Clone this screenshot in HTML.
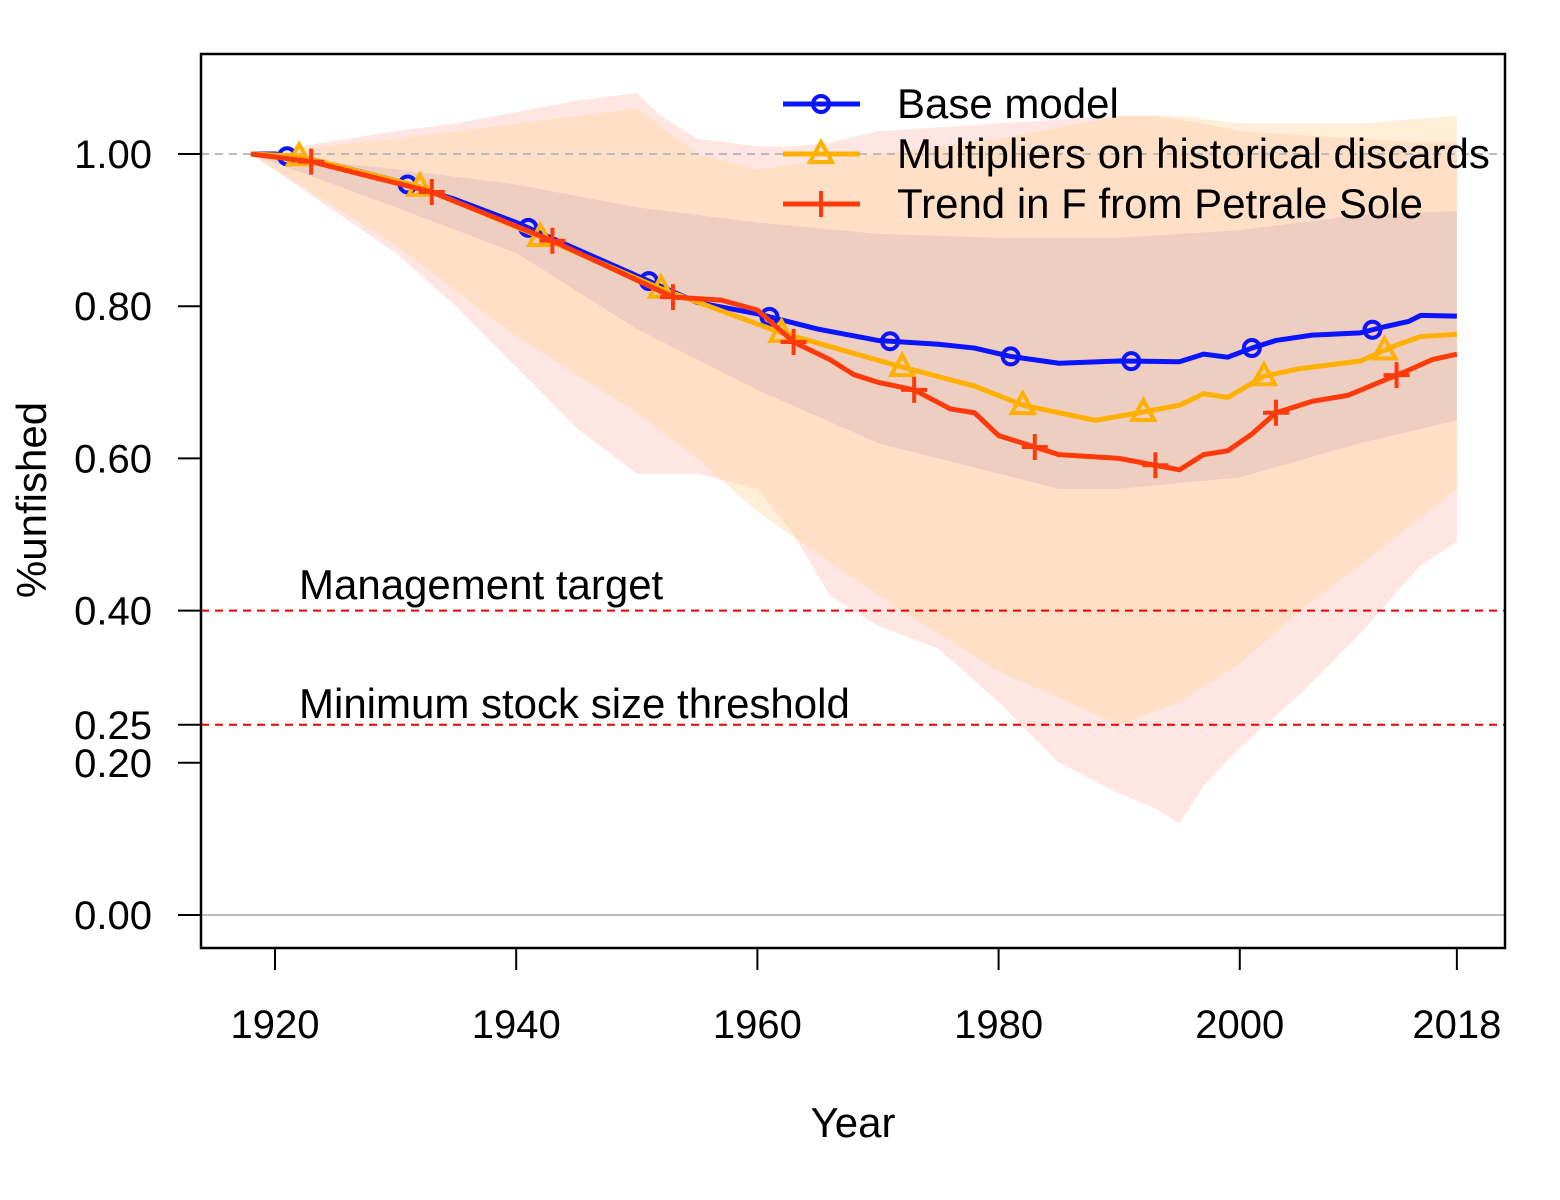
<!DOCTYPE html>
<html><head><meta charset="utf-8"><style>
body{margin:0;background:#fff}
svg{display:block;font-family:"Liberation Sans",Arial,sans-serif}
</style></head><body>
<svg id="chart" width="1560" height="1200" viewBox="0 0 1560 1200">
<g id="bands"></g>
<g id="ref"></g>
<g id="series"></g>
<rect x="201" y="54" width="1304" height="894" fill="none" stroke="#000" stroke-width="2.5"/>
<g id="axes" font-size="40" fill="#000"></g>
<text x="853" y="1137" font-size="42" text-anchor="middle">Year</text>
<text transform="translate(46,500) rotate(-90)" font-size="42" text-anchor="middle">%unfished</text>
<text x="299" y="599" font-size="42">Management target</text>
<text x="299" y="718" font-size="42">Minimum stock size threshold</text>
<g id="legend" font-size="42"></g>
</svg>
<script>
const xTicks=[1920,1940,1960,1980,2000,2018];
const yTicks=[0,0.2,0.25,0.4,0.6,0.8,1.0];
const yTickLabels=["0.00","0.20","0.25","0.40","0.60","0.80","1.00"];
const baseYears=[1918,1920,1925,1930,1935,1940,1945,1950,1955,1960,1965,1970,1975,1978,1981,1985,1990,1995,1997,1999,2001,2003,2006,2010,2012,2014,2015,2018];
const baseVals=[1,1,0.985,0.965,0.94,0.91,0.875,0.84,0.805,0.79,0.77,0.755,0.75,0.745,0.734,0.725,0.728,0.727,0.737,0.733,0.745,0.755,0.762,0.765,0.773,0.78,0.788,0.787];
const multYears=[1918,1922,1932,1942,1952,1962,1972,1978,1982,1988,1992,1995,1997,1999,2002,2005,2010,2013,2015,2018];
const multVals=[1,0.997,0.957,0.891,0.823,0.765,0.72,0.695,0.67,0.65,0.661,0.67,0.685,0.68,0.708,0.718,0.728,0.749,0.76,0.763];
const trendYears=[1918,1923,1933,1943,1953,1957,1960,1963,1966,1968,1970,1973,1976,1978,1980,1983,1985,1990,1993,1995,1997,1999,2001,2003,2006,2009,2014,2016,2018];
const trendVals=[1,0.99,0.95,0.886,0.812,0.808,0.795,0.753,0.73,0.71,0.7,0.69,0.665,0.66,0.63,0.615,0.605,0.6,0.591,0.585,0.605,0.61,0.632,0.66,0.675,0.683,0.716,0.73,0.737];
const redBandYears=[1918,1930,1935,1940,1945,1950,1952,1955,1960,1963,1966,1970,1975,1980,1985,1990,1993,1995,1997,2000,2005,2010,2015,2018];
const redBandUp=[1,1.03,1.04,1.055,1.07,1.08,1.05,1.02,1.01,1.01,1.015,1.03,1.035,1.04,1.045,1.05,1.05,1.045,1.04,1.03,1.025,1.02,1.015,1.015];
const redBandLo=[1,0.87,0.8,0.72,0.64,0.58,0.58,0.58,0.56,0.5,0.42,0.38,0.35,0.28,0.2,0.16,0.14,0.12,0.17,0.22,0.29,0.37,0.46,0.49];
const orBandYears=[1918,1930,1940,1945,1950,1955,1960,1970,1980,1990,1995,2000,2005,2010,2018];
const orBandUp=[1,1.02,1.04,1.05,1.06,1.0,0.98,1.0,1.02,1.05,1.05,1.04,1.04,1.04,1.05];
const orBandLo=[1,0.88,0.76,0.71,0.66,0.6,0.53,0.42,0.32,0.25,0.28,0.33,0.4,0.46,0.56];
const blBandYears=[1918,1930,1940,1950,1960,1970,1980,1985,1990,2000,2010,2018];
const blBandUp=[1,0.98,0.96,0.93,0.91,0.895,0.89,0.89,0.89,0.9,0.92,0.925];
const blBandLo=[1,0.93,0.87,0.77,0.69,0.62,0.58,0.56,0.56,0.575,0.62,0.65];
const baseMarkYears=[1921,1931,1941,1951,1961,1971,1981,1991,2001,2011];
const multMarkYears=[1922,1932,1942,1952,1962,1972,1982,1992,2002,2012];
const trendMarkYears=[1923,1933,1943,1953,1963,1973,1983,1993,2003,2013];

const NS="http://www.w3.org/2000/svg";
const X=y=>275+(y-1920)*12.06;
const Y=v=>915-v*761;
function interp(ys,vs,yr){for(let i=0;i<ys.length-1;i++){if(yr>=ys[i]&&yr<=ys[i+1]){const t=(yr-ys[i])/(ys[i+1]-ys[i]);return vs[i]+t*(vs[i+1]-vs[i]);}}return vs[vs.length-1];}
function mk(tag,attrs,parent){const e=document.createElementNS(NS,tag);for(const k in attrs)e.setAttribute(k,attrs[k]);parent.appendChild(e);return e;}
const bands=document.getElementById('bands');
function band(ys,up,lo,fill,name){
  let d='M'+ys.map((y,i)=>X(y)+','+Y(up[i])).join(' L');
  for(let i=ys.length-1;i>=0;i--)d+=' L'+X(ys[i])+','+Y(lo[i]);
  const p=mk('path',{d:d+'Z',fill:fill},bands);
  
  
}
band(redBandYears,redBandUp,redBandLo,'rgba(255,200,190,0.45)','trend-band');
band(orBandYears,orBandUp,orBandLo,'rgba(255,215,160,0.4)','multipliers-band');
band(blBandYears,blBandUp,blBandLo,'rgba(150,110,160,0.16)','base-band');
const ref=document.getElementById('ref');
let l;
l=mk('line',{x1:201,x2:1505,y1:Y(1),y2:Y(1),stroke:'#bbb','stroke-width':2,'stroke-dasharray':'8,6'},ref);


l=mk('line',{x1:201,x2:1505,y1:Y(0),y2:Y(0),stroke:'#bbb','stroke-width':2},ref);


l=mk('line',{x1:201,x2:1505,y1:Y(0.4),y2:Y(0.4),stroke:'#e00','stroke-width':2,'stroke-dasharray':'8,6'},ref);


l=mk('line',{x1:201,x2:1505,y1:Y(0.25),y2:Y(0.25),stroke:'#e00','stroke-width':2,'stroke-dasharray':'8,6'},ref);


const ser=document.getElementById('series');
function marker(type,cx,cy,col,parent){
  let e;
  if(type==='circle')e=mk('circle',{cx:cx,cy:cy,r:8,fill:'none',stroke:col,'stroke-width':4},parent);
  else if(type==='tri')e=mk('path',{d:`M${cx},${cy-12} L${cx+11},${cy+8} L${cx-11},${cy+8}Z`,fill:'none',stroke:col,'stroke-width':4},parent);
  else e=mk('path',{d:`M${cx-13},${cy} H${cx+13} M${cx},${cy-13} V${cy+13}`,stroke:col,'stroke-width':4},parent);
  return e;
}
function series(ys,vs,marks,col,type,name){
  const g=mk('g',{},ser);
  
  
  mk('polyline',{points:ys.map((y,i)=>X(y)+','+Y(vs[i])).join(' '),fill:'none',stroke:col,'stroke-width':5,'stroke-linejoin':'round'},g);
  marks.forEach(y=>{const m=marker(type,X(y),Y(interp(ys,vs,y)),col,g);
    
    });
}
series(baseYears,baseVals,baseMarkYears,'#0a14ff','circle','base-model-series');
series(multYears,multVals,multMarkYears,'#ffb000','tri','multipliers-series');
series(trendYears,trendVals,trendMarkYears,'#ff3a0a','plus','trend-series');
const ax=document.getElementById('axes');
mk('line',{x1:X(1920),x2:X(2018),y1:948,y2:948,stroke:'#000','stroke-width':2},ax);
xTicks.forEach(t=>{mk('line',{x1:X(t),x2:X(t),y1:948,y2:970,stroke:'#000','stroke-width':2},ax);
  const tx=mk('text',{x:X(t),y:1038,'text-anchor':'middle'},ax);tx.textContent=t;
  
  });
yTicks.forEach((t,i)=>{mk('line',{x1:178,x2:201,y1:Y(t),y2:Y(t),stroke:'#000','stroke-width':2},ax);
  const tx=mk('text',{x:152,y:Y(t)+14,'text-anchor':'end'},ax);tx.textContent=yTickLabels[i];
  
  });
const lg=document.getElementById('legend');
const entries=[['Base model','#0a14ff','circle'],['Multipliers on historical discards','#ffb000','tri'],['Trend in F from Petrale Sole','#ff3a0a','plus']];
entries.forEach((e,i)=>{const y=104+i*50;
  const g=mk('g',{},lg);
  
  
  mk('line',{x1:783,x2:860,y1:y,y2:y,stroke:e[1],'stroke-width':5},g);
  marker(e[2],821,y,e[1],g);
  const t=mk('text',{x:897,y:y+14},g);t.textContent=e[0];});
</script>
</body></html>
